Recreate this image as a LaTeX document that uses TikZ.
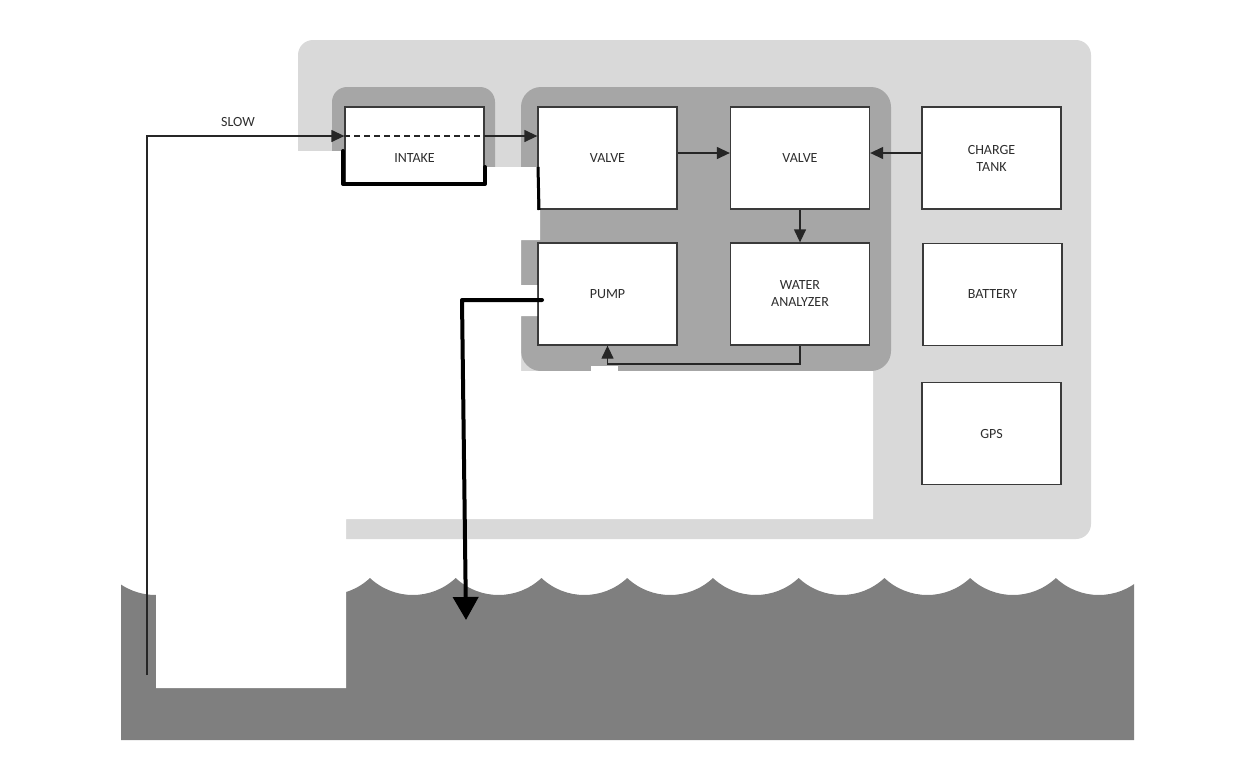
\documentclass[tikz,border=0pt]{standalone}
\usepackage{fontspec}
\setmainfont{Carlito}
\usetikzlibrary{arrows.meta,calc}
\definecolor{boatgray}{HTML}{D9D9D9}
\definecolor{unitgray}{HTML}{A6A6A6}
\definecolor{watergray}{HTML}{7F7F7F}
\definecolor{edgegray}{HTML}{3A3A3A}
\definecolor{txtgray}{HTML}{2E2E2E}
\tikzset{
  box/.style={draw=edgegray, line width=1.3pt, fill=white, minimum width=139pt, minimum height=102pt,
    inner sep=0pt, align=center, text=txtgray, font=\fontsize{14}{17}\selectfont},
  conn/.style={draw=black!85, line width=1.3pt},
  tip/.style={-{Triangle[length=13pt,width=12pt]}},
  heavy/.style={draw=black, line width=4pt, line cap=round, line join=round},
  bigtip/.style={-{Triangle[length=23pt,width=25pt]}},
  lbl/.style={text=txtgray, font=\fontsize{14}{17}\selectfont, inner sep=0pt}
}
\begin{document}
\begin{tikzpicture}[x=1pt,y=-1pt]
\useasboundingbox (0,0) rectangle (1238,774);
% boat hull
\fill[boatgray, rounded corners=15pt] (298,40) rectangle (1091,539);
% unit groups
\fill[unitgray, rounded corners=15pt] (332,87) rectangle (495,230);
\fill[unitgray, rounded corners=20pt] (521,87) rectangle (891,371);
% water
\begin{scope}
  \clip (121,500) rectangle (1134,740);
  \fill[watergray] (27,578) \foreach \i in {1,...,13}{ arc[start angle=133.25, end angle=46.75, radius=62.57] }
     -- (1142,740) -- (27,740) -- cycle;
\end{scope}
% boxes
\node[box] (intake) at (414.5,158) {INTAKE};
\node[box] (valveA) at (607.5,158) {VALVE};
\node[box] (valveB) at (800,158) {VALVE};
\node[box] (charge) at (991.5,158) {CHARGE\\TANK};
\node[box] (pump) at (607.5,294) {PUMP};
\node[box] (analyzer) at (800,294) {WATER\\ANALYZER};
\node[box] (battery) at (992.5,294.5) {BATTERY};
\node[box] (gps) at (991.5,433.5) {GPS};
% white masks
\fill[white] (298,151) -- (343,151) -- (343,186) -- (485,186) -- (485,167) -- (537,167) -- (537,210)
  -- (540,210) -- (540,240) -- (521,240) -- (521,285) -- (537,285) -- (537,316) -- (521,316)
  -- (521,371) -- (873,371) -- (873,519) -- (346,519) -- (346,688) -- (156,688) -- (156,151) -- cycle;
\fill[white] (591,366) rectangle (618,372);
% connectors
\coordinate (flow) at (0,136);
\coordinate (slowstart) at (147,675);
\node[lbl] (slowlabel) at (238,122) {SLOW};
\draw[conn, tip] (slowstart) |- (intake.west |- flow);
\draw[conn, dash pattern=on 6pt off 4pt] (intake.west |- flow) -- (intake.east |- flow);
\draw[conn, tip] (intake.east |- flow) -- (valveA.west |- flow);
\coordinate (rowA) at (0,153);
\draw[conn, tip] (valveA.east |- rowA) -- (valveB.west |- rowA);
\draw[conn, tip] (charge.west |- rowA) -- (valveB.east |- rowA);
\draw[conn, tip] (valveB.south) -- (analyzer.north);
\coordinate (loop) at (0,364);
\draw[conn, tip] (analyzer.south) -- (analyzer.south |- loop) -- (pump.south |- loop) -- (pump.south);
% hand-drawn heavy lines
\draw[heavy] (343,151) -- (343,184) -- (485,184) -- (485,167);
\draw[draw=black, line width=3pt] (538,167) -- (539,210);
\coordinate (pumpout) at (542,300);
\coordinate (bend) at (462,300);
\coordinate (outlet) at (466,620);
\draw[heavy, bigtip] (pumpout) -- (bend) -- (outlet);
\end{tikzpicture}
\end{document}
